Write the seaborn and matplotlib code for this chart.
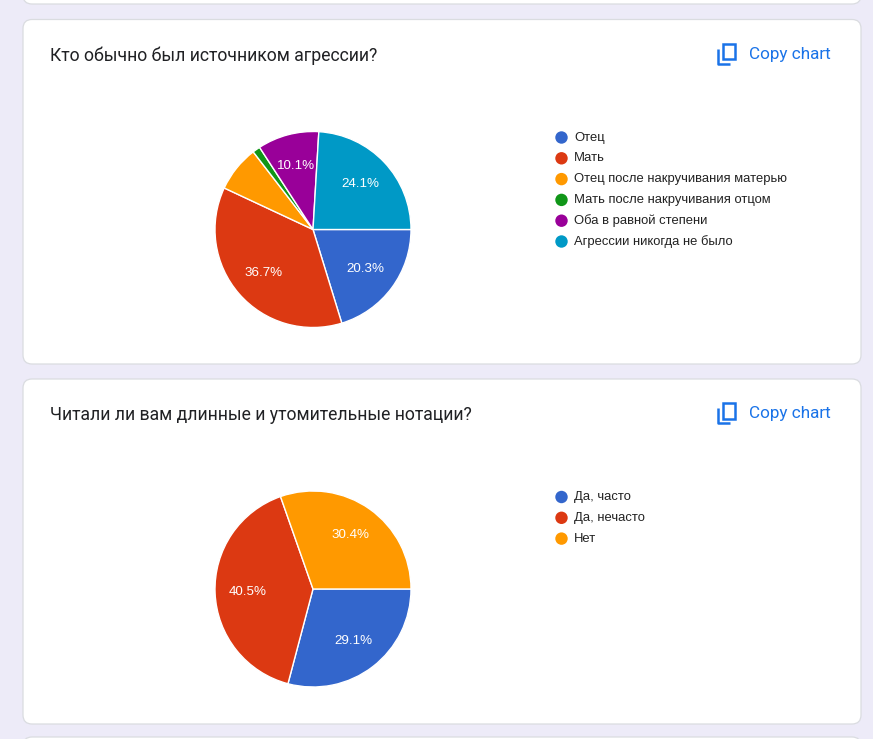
import numpy as np
import seaborn as sns
import matplotlib
matplotlib.use('Agg')
import matplotlib.pyplot as plt
from matplotlib.patches import FancyBboxPatch, Rectangle

# data (79 answers each)
q1_title = 'Кто обычно был источником агрессии?'
q1_labels = ['Отец', 'Мать', 'Отец после накручивания матерью',
             'Мать после накручивания отцом', 'Оба в равной степени',
             'Агрессии никогда не было']
q1_counts = [16, 29, 6, 1, 8, 19]

q2_title = 'Читали ли вам длинные и утомительные нотации?'
q2_labels = ['Да, часто', 'Да, нечасто', 'Нет']
q2_counts = [23, 32, 24]

google_colors = ['#3366cc', '#dc3912', '#ff9900', '#109618', '#990099', '#0099c6']

W, H = 873, 739
sns.set_theme(style='white')
plt.rcParams['font.family'] = ['Roboto', 'DejaVu Sans']

fig = plt.figure(figsize=(W / 100, H / 100), dpi=100)
fig.patch.set_facecolor('#edebf8')

# overlay in pixel coordinates for cards, titles and legends
bg = fig.add_axes([0, 0, 1, 1])
bg.set_xlim(0, W)
bg.set_ylim(H, 0)
bg.axis('off')

def card(y0, y1):
    bg.add_patch(FancyBboxPatch((23, y0), 838, y1 - y0,
                                boxstyle='round,pad=0,rounding_size=9',
                                fc='white', ec='#dadce0', lw=0.9))

card(-40, 4)
card(19.5, 364)
card(379, 724)
card(737, 790)

def copy_icon(x, y):
    # little "content copy" glyph
    bg.add_patch(Rectangle((x + 5.5, y - 10), 12, 15.5, fc='none', ec='#1a73e8', lw=1.8))
    bg.plot([x + 1, x + 1, x + 13], [y - 5, y + 10, y + 10], color='#1a73e8', lw=1.8,
            solid_capstyle='butt')
    bg.text(x + 32, y + 0.5, 'Copy chart', color='#1a73e8', fontsize=12.3,
            va='center', ha='left')


def pct_label(p):
    return '{:.1f}%'.format(p) if p >= 8 else ''


def draw_question(top, title, labels, counts):
    bg.text(50, top + 36, title, fontsize=12.7, color='#202124',
            va='center', ha='left')
    copy_icon(717, top + 34)

    cx, cy, r = 313, top + 210, 98
    ax = fig.add_axes([(cx - r) / W, 1 - (cy + r) / H, 2 * r / W, 2 * r / H])
    colors = sns.color_palette(google_colors[:len(counts)])
    wedges, texts, autotexts = ax.pie(
        counts, colors=colors, startangle=0, counterclock=False,
        autopct=pct_label, pctdistance=0.67,
        wedgeprops=dict(edgecolor='white', linewidth=1.0),
        textprops=dict(color='white', fontsize=9.6,
                       family=['Liberation Sans', 'DejaVu Sans']))
    ax.set_xlim(-1, 1)
    ax.set_ylim(-1, 1)
    ax.set_aspect('equal')

    # legend
    for i, lab in enumerate(labels):
        y = top + 118 + i * 20.8
        bg.scatter([561.5], [y], s=80, color=colors[i], edgecolor='none')
        bg.text(574, y, lab, fontsize=9.4, color='#222222', va='center',
                ha='left', family=['Liberation Sans', 'DejaVu Sans'])


draw_question(19.5, q1_title, q1_labels, q1_counts)
draw_question(379, q2_title, q2_labels, q2_counts)

fig.savefig('out.png', dpi=100, facecolor=fig.get_facecolor())
